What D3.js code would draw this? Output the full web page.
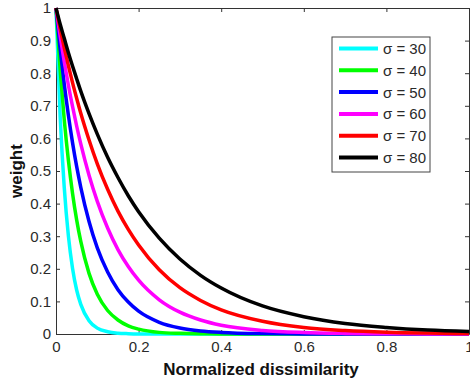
<!DOCTYPE html>
<html>
<head>
<meta charset="utf-8">
<style>
    body { margin: 0; background: #fff; }
    svg { display: block; font-family: "Liberation Sans", Arial, sans-serif; }
    .tick text { fill: #2a2a2a; font-size: 15px; }
</style>
</head>
<body>
<svg width="470" height="383"></svg>

<script src="https://d3js.org/d3.v7.min.js"></script>
<script>
    // values
    let xs = [0, 0.01, 0.02, 0.03, 0.04, 0.05, 0.06, 0.08, 0.1, 0.125, 0.15, 0.175, 0.2,
              0.25, 0.3, 0.35, 0.4, 0.5, 0.6, 0.7, 0.8, 0.9, 1.0]

    let sigma30 = [1, 0.670, 0.449, 0.301, 0.202, 0.135, 0.091, 0.041, 0.018, 0.007, 0.0025, 0.001, 0.0003,
                   0, 0, 0, 0, 0, 0, 0, 0, 0, 0]
    let sigma40 = [1, 0.811, 0.657, 0.533, 0.432, 0.350, 0.284, 0.186, 0.122, 0.072, 0.043, 0.025, 0.015,
                   0.005, 0.002, 0.0006, 0.0002, 0, 0, 0, 0, 0, 0]
    let sigma50 = [1, 0.875, 0.766, 0.671, 0.587, 0.514, 0.450, 0.345, 0.264, 0.190, 0.136, 0.098, 0.070,
                   0.036, 0.0185, 0.0095, 0.0049, 0.0013, 0.0003, 0.0001, 0, 0, 0]
    let sigma60 = [1, 0.914, 0.835, 0.763, 0.698, 0.638, 0.583, 0.487, 0.407, 0.325, 0.259, 0.207, 0.165,
                   0.105, 0.067, 0.043, 0.027, 0.011, 0.0045, 0.0018, 0.0007, 0.0003, 0.0001]
    let sigma70 = [1, 0.937, 0.878, 0.823, 0.771, 0.723, 0.677, 0.595, 0.522, 0.444, 0.377, 0.321, 0.273,
                   0.197, 0.142, 0.103, 0.074, 0.039, 0.020, 0.0106, 0.0055, 0.0029, 0.0015]
    let sigma80 = [1, 0.951, 0.907, 0.863, 0.822, 0.783, 0.745, 0.676, 0.613, 0.542, 0.480, 0.424, 0.375,
                   0.294, 0.230, 0.180, 0.141, 0.086, 0.053, 0.032, 0.020, 0.012, 0.0074]

    let seriesNames = ["σ = 30", "σ = 40", "σ = 50", "σ = 60", "σ = 70", "σ = 80"]
    let seriesColors = ["#00ffff", "#00ff00", "#0000ff", "#ff00ff", "#ff0000", "#000000"]
    let seriesValues = [sigma30, sigma40, sigma50, sigma60, sigma70, sigma80]

    let xTicks = [0, 0.2, 0.4, 0.6, 0.8, 1]
    let yTicks = [0, 0.1, 0.2, 0.3, 0.4, 0.5, 0.6, 0.7, 0.8, 0.9, 1]

    let margin = { left: 56, right: 1, top: 8, bottom: 49 }
    let width = 470, height = 383

    let svg = d3.select("svg")

    let x = d3.scaleLinear().domain([0, 1]).range([margin.left, width - margin.right])
    let y = d3.scaleLinear().domain([0, 1]).range([height - margin.bottom, margin.top])

    let fmt = d => d3.format("")(+d.toFixed(1))

    // axes, MATLAB style: ticks point inward, box on all sides
    svg.append("g")
        .attr("class", "x-axis")
        .attr("transform", `translate(0,${y(0)})`)
        .call(d3.axisBottom(x).tickValues(xTicks).tickSizeInner(-4).tickSizeOuter(0).tickPadding(7).tickFormat(fmt))

    svg.append("g")
        .attr("class", "y-axis")
        .attr("transform", `translate(${x(0)},0)`)
        .call(d3.axisLeft(y).tickValues(yTicks).tickSizeInner(-4).tickSizeOuter(0).tickPadding(5).tickFormat(fmt))

    svg.append("g")
        .attr("transform", `translate(0,${y(1)})`)
        .call(d3.axisTop(x).tickValues(xTicks).tickSizeInner(-4).tickSizeOuter(0).tickFormat(""))

    svg.append("g")
        .attr("transform", `translate(${x(1)},0)`)
        .call(d3.axisRight(y).tickValues(yTicks).tickSizeInner(-4).tickSizeOuter(0).tickFormat(""))

    svg.selectAll(".domain, .tick line").attr("stroke", "#333").attr("stroke-width", 1)

    // curves
    let line = d3.line()
        .x((d, i) => x(xs[i]))
        .y(d => y(d))
        .curve(d3.curveMonotoneX)

    svg.selectAll(".curve")
        .data(seriesValues)
        .join("path")
        .attr("class", "curve")
        .attr("d", line)
        .attr("fill", "none")
        .attr("stroke", (d, i) => seriesColors[i])
        .attr("stroke-width", 3.5)
        .attr("stroke-linejoin", "round")

    // axis labels
    svg.append("text")
        .attr("x", 261)
        .attr("y", 375)
        .attr("text-anchor", "middle")
        .style("font-size", "17px")
        .style("font-weight", "bold")
        .style("fill", "#111")
        .text("Normalized dissimilarity")

    svg.append("text")
        .attr("transform", `translate(22,${(y(0) + y(1)) / 2}) rotate(-90)`)
        .attr("text-anchor", "middle")
        .style("font-size", "17px")
        .style("font-weight", "bold")
        .style("fill", "#111")
        .text("weight")

    // legend
    let legend = svg.append("g").attr("transform", "translate(332,37)")

    legend.append("rect")
        .attr("width", 98)
        .attr("height", 135)
        .attr("fill", "#fff")
        .attr("stroke", "#444")

    let rows = legend.selectAll(".row")
        .data(seriesNames)
        .join("g")
        .attr("transform", (d, i) => `translate(0,${11.5 + i * 21.8})`)

    rows.append("line")
        .attr("x1", 7).attr("x2", 46)
        .attr("stroke", (d, i) => seriesColors[i])
        .attr("stroke-width", 4)

    rows.append("text")
        .attr("x", 51)
        .attr("dy", "0.36em")
        .style("font-size", "15px")
        .style("fill", "#2a2a2a")
        .text(d => d)
</script>
</body>
</html>
